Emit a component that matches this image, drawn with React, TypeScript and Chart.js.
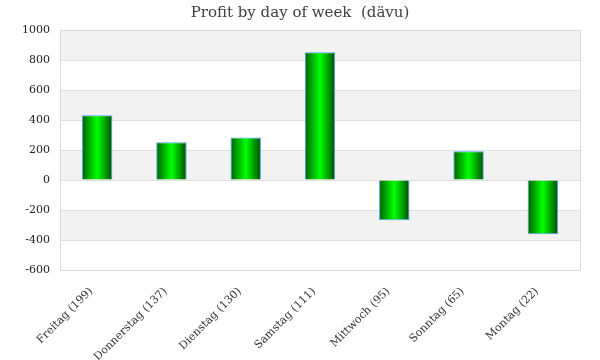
import React, { useEffect, useRef } from "react";
import { Chart, registerables } from "chart.js";

Chart.register(...registerables);

const titleText = "Profit by day of week  (dävu)";
const categories = [
  "Freitag (199)",
  "Donnerstag (137)",
  "Dienstag (130)",
  "Samstag (111)",
  "Mittwoch (95)",
  "Sonntag (65)",
  "Montag (22)",
];
const profits = [431, 251, 284, 851, -269, 191, -362];
const yMin = -600;
const yMax = 1000;
const yStep = 200;

const bandsPlugin = {
  id: "bands",
  beforeDraw(chart: any) {
    const { ctx, chartArea } = chart;
    const ys = chart.scales.y;
    const ticks = ys.ticks.map((t: any) => t.value).sort((a: number, b: number) => b - a);
    ctx.save();
    for (let i = 0; i < ticks.length - 1; i++) {
      const top = ys.getPixelForValue(ticks[i]);
      const bot = ys.getPixelForValue(ticks[i + 1]);
      ctx.fillStyle = i % 2 === 0 ? "#f2f2f2" : "#ffffff";
      ctx.fillRect(chartArea.left, top, chartArea.right - chartArea.left, bot - top);
    }
    ctx.restore();
  },
  afterDraw(chart: any) {
    const { ctx, chartArea } = chart;
    ctx.save();
    ctx.strokeStyle = "#d9d9d9";
    ctx.lineWidth = 1;
    ctx.strokeRect(
      Math.round(chartArea.left) + 0.5,
      Math.round(chartArea.top) + 0.5,
      Math.round(chartArea.right - chartArea.left),
      Math.round(chartArea.bottom - chartArea.top)
    );
    ctx.restore();
  },
};

export default function App() {
  const ref = useRef<HTMLCanvasElement | null>(null);
  useEffect(() => {
    if (!ref.current) return;
    const barFrac = 0.41;
    const chart = new Chart(ref.current, {
      type: "bar",
      data: {
        labels: categories,
        datasets: [
          {
            data: profits,
            yAxisID: "y",
            backgroundColor: (c: any) => {
              const ch = c.chart;
              const xs = ch.scales && ch.scales.x;
              if (!ch.chartArea || !xs || c.dataIndex === undefined) return "#00aa00";
              const cx = xs.getPixelForValue(c.dataIndex);
              const w = (xs.width / categories.length) * barFrac;
              const g = ch.ctx.createLinearGradient(cx - w / 2, 0, cx + w / 2, 0);
              g.addColorStop(0, "#005f00");
              g.addColorStop(0.5, "#00ff00");
              g.addColorStop(1, "#004d00");
              return g;
            },
            borderColor: "#4fa3f7",
            borderWidth: 1,
            barPercentage: barFrac,
            categoryPercentage: 1,
          },
        ],
      },
      options: {
        animation: false,
        responsive: false,
        maintainAspectRatio: false,
        layout: { padding: 0 },
        plugins: {
          legend: { display: false },
          tooltip: { enabled: false },
          title: {
            display: true,
            text: titleText,
            color: "#404040",
            font: { family: "'DejaVu Serif', serif", size: 15, weight: "normal" },
            padding: { top: 4, bottom: 8 },
          },
        },
        scales: {
          x: {
            grid: { display: false },
            border: { display: false },
            ticks: {
              minRotation: 45,
              maxRotation: 45,
              color: "#333333",
              font: { family: "'DejaVu Serif', serif", size: 11 },
              padding: 7,
              labelOffset: -6,
            },
            afterFit: (s: any) => {
              s.height = 90;
            },
          },
          y: {
            min: yMin,
            max: yMax,
            ticks: {
              stepSize: yStep,
              color: "#222222",
              font: { family: "'DejaVu Serif', serif", size: 11 },
              padding: 10,
              callback: (v: any) => String(v),
            },
            grid: { color: "#dedede", lineWidth: 1, drawTicks: false },
            border: { display: false },
            afterFit: (s: any) => {
              s.width = 60;
            },
          },
          yRight: {
            position: "right",
            min: yMin,
            max: yMax,
            grid: { display: false },
            border: { display: false },
            ticks: { display: false },
            afterFit: (s: any) => {
              s.width = 20;
            },
          },
        },
      },
      plugins: [bandsPlugin],
    } as any);
    return () => chart.destroy();
  }, []);
  return (
    <div style={{ position: "absolute", left: 0, top: 0, width: 600, height: 360 }}>
      <canvas ref={ref} width={600} height={360} />
    </div>
  );
}
